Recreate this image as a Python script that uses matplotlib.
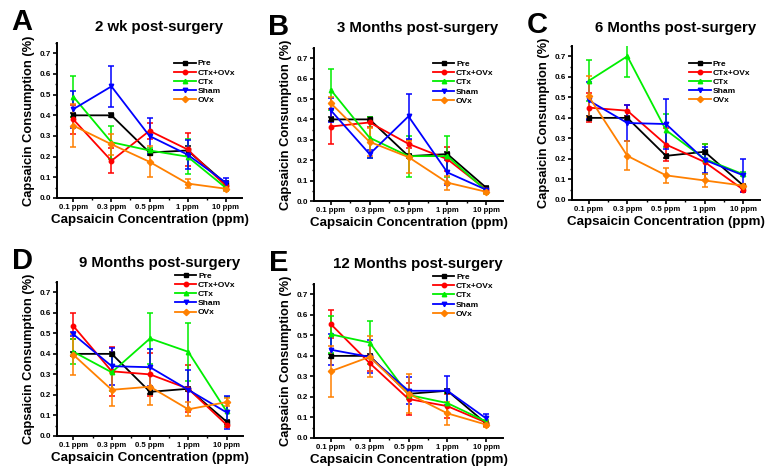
import matplotlib
matplotlib.use('Agg')
import matplotlib.pyplot as plt
from matplotlib.ticker import MultipleLocator
import numpy as np

plt.rcParams['font.family'] = ['Liberation Sans', 'DejaVu Sans']
plt.rcParams['font.weight'] = 'bold'

# x categories
concentrations = ['0.1 ppm', '0.3 ppm', '0.5 ppm', '1 ppm', '10 ppm']
groups = ['Pre', 'CTx+OVx', 'CTx', 'Sham', 'OVx']
colors = ['#000000', '#ff0000', '#00ee00', '#0000ff', '#ff8000']
markers = ['s', 'o', '^', 'v', 'D']

titles = ['2 wk post-surgery', '3 Months post-surgery', '6 Months post-surgery',
          '9 Months post-surgery', '12 Months post-surgery']
letters = ['A', 'B', 'C', 'D', 'E']

# mean values per panel, one row per group (Pre, CTx+OVx, CTx, Sham, OVx)
wk2_mean = [[0.40, 0.40, 0.22, 0.23, 0.07],
            [0.38, 0.18, 0.325, 0.235, 0.06],
            [0.49, 0.27, 0.23, 0.20, 0.05],
            [0.43, 0.54, 0.30, 0.21, 0.075],
            [0.35, 0.26, 0.175, 0.07, 0.045]]
wk2_err = [[0.01, 0.01, 0.01, 0.02, 0.01],
           [0.07, 0.06, 0.04, 0.08, 0.01],
           [0.10, 0.08, 0.01, 0.085, 0.01],
           [0.09, 0.10, 0.085, 0.07, 0.02],
           [0.105, 0.05, 0.075, 0.02, 0.01]]

m3_mean = [[0.40, 0.40, 0.22, 0.23, 0.065],
           [0.365, 0.385, 0.28, 0.205, 0.055],
           [0.545, 0.31, 0.22, 0.22, 0.05],
           [0.445, 0.23, 0.415, 0.14, 0.055],
           [0.48, 0.29, 0.215, 0.09, 0.045]]
m3_err = [[0.01, 0.01, 0.01, 0.01, 0.01],
          [0.085, 0.02, 0.02, 0.06, 0.01],
          [0.10, 0.10, 0.10, 0.10, 0.01],
          [0.06, 0.02, 0.11, 0.06, 0.01],
          [0.03, 0.07, 0.08, 0.035, 0.01]]

m6_mean = [[0.40, 0.40, 0.215, 0.235, 0.07],
           [0.45, 0.435, 0.27, 0.185, 0.05],
           [0.58, 0.70, 0.34, 0.20, 0.125],
           [0.485, 0.375, 0.37, 0.195, 0.12],
           [0.505, 0.215, 0.12, 0.095, 0.07]]
m6_err = [[0.01, 0.01, 0.01, 0.01, 0.01],
          [0.07, 0.03, 0.08, 0.09, 0.01],
          [0.10, 0.10, 0.08, 0.075, 0.01],
          [0.09, 0.09, 0.12, 0.065, 0.08],
          [0.10, 0.07, 0.035, 0.03, 0.01]]

m9_mean = [[0.40, 0.40, 0.215, 0.23, 0.07],
           [0.535, 0.315, 0.30, 0.23, 0.055],
           [0.41, 0.31, 0.475, 0.41, 0.12],
           [0.495, 0.34, 0.335, 0.225, 0.115],
           [0.395, 0.225, 0.24, 0.13, 0.165]]
m9_err = [[0.01, 0.01, 0.01, 0.01, 0.01],
          [0.065, 0.12, 0.105, 0.115, 0.01],
          [0.06, 0.09, 0.125, 0.14, 0.07],
          [0.01, 0.09, 0.09, 0.095, 0.08],
          [0.10, 0.08, 0.09, 0.035, 0.02]]

m12_mean = [[0.40, 0.40, 0.215, 0.23, 0.07],
            [0.555, 0.365, 0.19, 0.155, 0.075],
            [0.505, 0.465, 0.21, 0.17, 0.08],
            [0.43, 0.395, 0.23, 0.23, 0.095],
            [0.325, 0.395, 0.215, 0.12, 0.065]]
m12_err = [[0.01, 0.01, 0.01, 0.01, 0.01],
           [0.07, 0.04, 0.08, 0.06, 0.01],
           [0.09, 0.105, 0.02, 0.05, 0.01],
           [0.075, 0.08, 0.065, 0.07, 0.02],
           [0.125, 0.10, 0.095, 0.055, 0.01]]

means = [wk2_mean, m3_mean, m6_mean, m9_mean, m12_mean]
errs = [wk2_err, m3_err, m6_err, m9_err, m12_err]

W, H = 778, 474
fig = plt.figure(figsize=(W / 100, H / 100), dpi=100)

# axes boxes in pixels: left, top, right, bottom
boxes = [(57, 43, 242, 198), (314, 48, 503, 201), (572, 46, 760, 200),
         (57, 282, 243, 436), (314, 284, 503, 438)]
# title height above the axes top, pixels
title_off = [16, 20, 18, 19, 20]
# legend anchor (upper-left, axes fraction)
leg_anchor = [(0.635, 0.893), (0.628, 0.92), (0.623, 0.91),
              (0.633, 1.065), (0.628, 1.07)]

x = np.arange(len(concentrations))
for i, (l, t, r, b) in enumerate(boxes):
    ax = fig.add_axes([l / W, 1 - b / H, (r - l) / W, (b - t) / H])
    handles = []
    for g in range(len(groups)):
        cont = ax.errorbar(x, means[i][g], yerr=errs[i][g], color=colors[g],
                           marker=markers[g], markersize=3.2, lw=1.3,
                           elinewidth=1.1, capsize=2.2, capthick=1.1,
                           label=groups[g])
        handles.append(cont[0])
    ax.set_xlim(-0.43, 4.43)
    ax.set_ylim(0, 0.75)
    ax.set_xticks(x)
    ax.set_xticklabels(concentrations, fontsize=5.6, fontweight='bold')
    ax.xaxis.set_minor_locator(MultipleLocator(0.5))
    ax.yaxis.set_minor_locator(MultipleLocator(0.05))
    ax.set_yticks(np.arange(0, 0.71, 0.1))
    ax.set_yticklabels(['%.1f' % v for v in np.arange(0, 0.71, 0.1)],
                       fontsize=5.8, fontweight='bold')
    ax.tick_params(which='major', length=3, width=1.2, pad=1.5)
    ax.tick_params(which='minor', length=1.6, width=1)
    for s in ['top', 'right']:
        ax.spines[s].set_visible(False)
    for s in ['left', 'bottom']:
        ax.spines[s].set_linewidth(1.4)
    ax.set_ylabel('Capsaicin Consumption (%)', fontsize=9.3, fontweight='bold',
                  labelpad=3)
    ax.set_xlabel('Capsaicin Concentration (ppm)', fontsize=9.6,
                  fontweight='bold', labelpad=2)
    ax.text(0.55, 1 + title_off[i] / (b - t), titles[i], transform=ax.transAxes,
            ha='center', va='center', fontsize=10.8, fontweight='bold')
    fig.text((l - 35) / W, 1 - (t - 21) / H, letters[i], ha='center',
             va='center', fontsize=21, fontweight='bold')
    ax.legend(handles, groups, loc='upper left', bbox_to_anchor=leg_anchor[i],
              frameon=False, fontsize=6, handlelength=2.6, handletextpad=0.2,
              labelspacing=0.16, borderpad=0, borderaxespad=0)

fig.savefig('out.png', dpi=100)
